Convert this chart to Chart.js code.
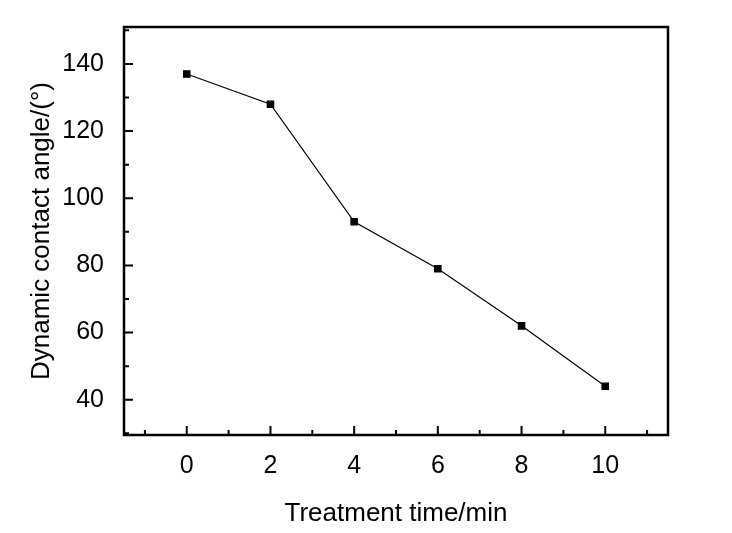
<!DOCTYPE html>
<html>
<head>
<script src="https://cdn.jsdelivr.net/npm/chart.js@4"></script>
<style>
  body { margin: 0; background: #fff; }
  #wrap { width: 732px; height: 533px; }
</style>
</head>
<body>
<div id="wrap"><canvas id="c"></canvas></div>
<script>
const times = [0, 2, 4, 6, 8, 10];
const angles = [137, 128, 93, 79, 62, 44];
const xTicks = [0, 2, 4, 6, 8, 10];
const yTicks = [40, 60, 80, 100, 120, 140];

// frame + inward major/minor ticks, positioned through the chart's own scales
const framePlugin = {
  id: 'frame',
  afterDraw(chart) {
    const { ctx, chartArea: a, scales } = chart;
    ctx.save();
    ctx.strokeStyle = '#000';
    ctx.lineWidth = 2.5;
    ctx.strokeRect(a.left, a.top, a.right - a.left, a.bottom - a.top);
    ctx.lineWidth = 2;
    ctx.beginPath();
    for (let v = -1; v <= 11; v++) {
      const x = scales.x.getPixelForValue(v);
      const len = v % 2 === 0 ? 9 : 5;
      ctx.moveTo(x, a.bottom); ctx.lineTo(x, a.bottom - len);
    }
    for (let v = 30; v <= 150; v += 10) {
      const y = scales.y.getPixelForValue(v);
      const len = v % 20 === 0 ? 9 : 5;
      ctx.moveTo(a.left, y); ctx.lineTo(a.left + len, y);
    }
    ctx.stroke();
    ctx.restore();
  }
};

new Chart(document.getElementById('c'), {
  type: 'line',
  data: {
    datasets: [{
      data: times.map((t, i) => ({ x: t, y: angles[i] })),
      borderColor: '#000',
      backgroundColor: '#000',
      borderWidth: 1.2,
      pointStyle: 'rect',
      pointRadius: 4.5,
      pointHoverRadius: 4.5,
      tension: 0
    }]
  },
  options: {
    responsive: true,
    maintainAspectRatio: false,
    animation: false,
    layout: { padding: { top: 5, right: 64, left: 22, bottom: 0 } },
    plugins: { legend: { display: false }, tooltip: { enabled: false } },
    scales: {
      x: {
        type: 'linear', min: -1.5, max: 11.5,
        afterFit(s) { s.height = 98; },
        afterBuildTicks(s) { s.ticks = xTicks.map(v => ({ value: v })); },
        grid: { display: false }, border: { display: false },
        ticks: { color: '#000', font: { family: 'Liberation Sans', size: 25 }, padding: 8 },
        title: { display: true, text: 'Treatment time/min', color: '#000',
                 font: { family: 'Liberation Sans', size: 26 }, padding: { top: 0 } }
      },
      y: {
        min: 29.5, max: 151,
        afterFit(s) { s.width = 102; },
        afterBuildTicks(s) { s.ticks = yTicks.map(v => ({ value: v })); },
        grid: { display: false }, border: { display: false },
        ticks: { color: '#000', font: { family: 'Liberation Sans', size: 25 }, padding: 12 },
        title: { display: true, text: 'Dynamic contact angle/(°)', color: '#000',
                 font: { family: 'Liberation Sans', size: 26 }, padding: { bottom: 4 } }
      }
    }
  },
  plugins: [framePlugin]
});
</script>
</body>
</html>
